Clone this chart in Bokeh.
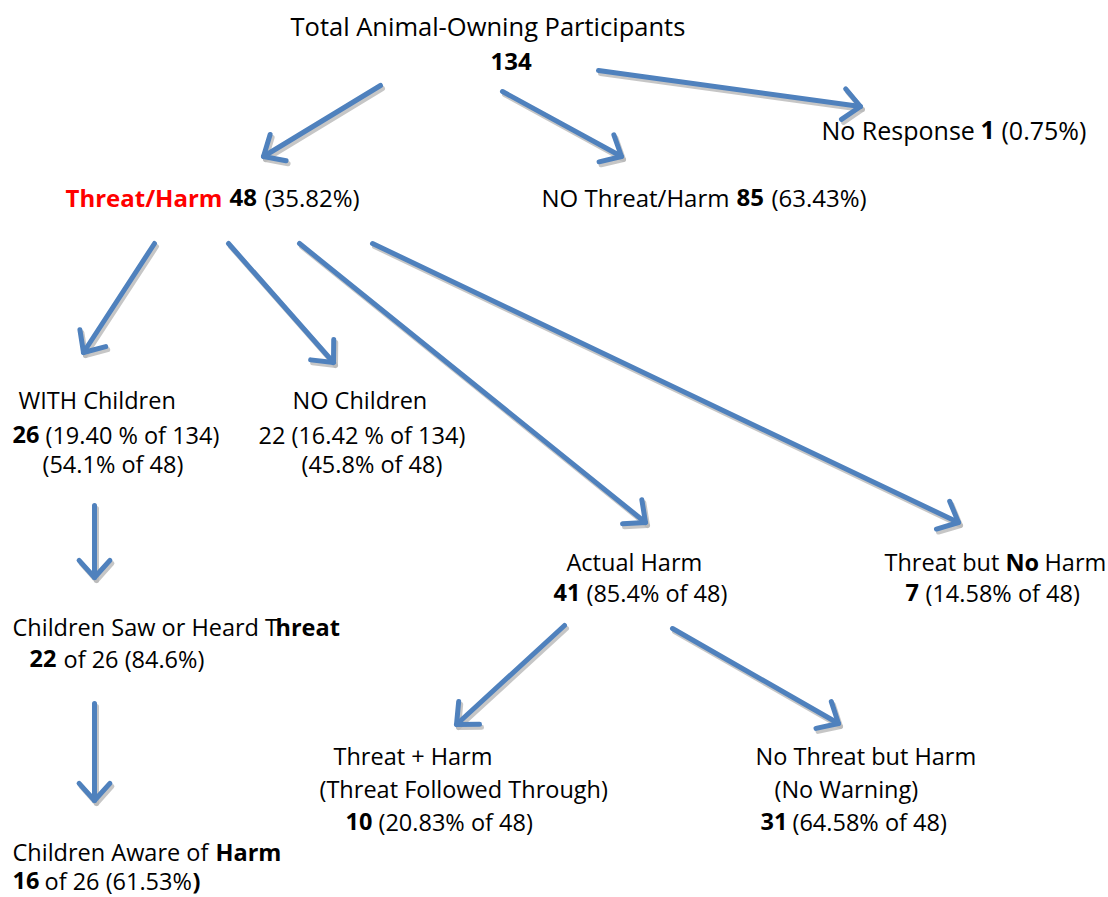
import math
from bokeh.plotting import figure
from bokeh.models import ColumnDataSource, Range1d
from bokeh.core.properties import value
from bokeh.embed import file_html
from bokeh.resources import INLINE

# ---- text segments of the flow chart ----
seg_text = [
    "Total Animal-Owning Participants", "134",
    "No Response", "1", "(0.75%)",
    "Threat/Harm", "48", "(35.82%)",
    "NO Threat/Harm", "85", "(63.43%)",
    "WITH Children", "26", "(19.40 % of 134)", "(54.1% of 48)",
    "NO Children", "22 (16.42 % of 134)", "(45.8% of 48)",
    "Actual Harm", "41", "(85.4% of 48)",
    "Threat but", "No", "Harm", "7", "(14.58% of 48)",
    "Children Saw or Heard T", "hreat", "22", "of 26 (84.6%)",
    "Threat + Harm", "(Threat Followed Through)", "10", "(20.83% of 48)",
    "No Threat but Harm", "(No Warning)", "31", "(64.58% of 48)",
    "Children Aware of", "Harm", "16", "of 26 (61.53%", ")",
]
seg_bold = [
    0, 1,
    0, 1, 0,
    1, 1, 0,
    0, 1, 0,
    0, 1, 0, 0,
    0, 0, 0,
    0, 1, 0,
    0, 1, 0, 1, 0,
    0, 1, 1, 0,
    0, 0, 1, 0,
    0, 0, 1, 0,
    0, 1, 1, 0, 1,
]
seg_color = ["#000000"] * len(seg_text)
seg_color[5] = "#FF0000"

# text size group: 0 = title, 1 = top row, 2 = second row, 3 = the rest
seg_group = [0, 2, 1, 1, 1] + [2] * 6 + [3] * (len(seg_text) - 11)

# positions (page pixels): left edge and baseline
seg_x = [
    290, 490,
    821, 980, 1001,
    65, 229, 264,
    541, 736, 771,
    18, 12, 45, 42,
    292, 258, 301,
    566, 553, 586,
    884, 1005, 1044, 905, 925,
    12, 275, 29, 63,
    333, 319, 345, 378,
    755, 774, 760, 792,
    12, 215, 12, 44, 192,
]
seg_y = [
    25, 61,
    129, 129, 129,
    197, 197, 197,
    197, 197, 197,
    399, 434, 434, 463,
    399, 434, 463,
    561, 592, 592,
    561, 561, 561, 592, 592,
    626, 626, 658, 658,
    755, 788, 821, 821,
    755, 788, 821, 821,
    851, 851, 880, 880, 880,
]

# ---- arrows (start -> tip) ----
arrow_x0 = [380, 502, 598, 154, 228, 299, 372, 94, 94, 564, 672]
arrow_y0 = [85, 91, 70, 243, 243, 243, 243, 505, 703, 625, 628]
arrow_x1 = [263, 621, 860, 83, 333, 645, 958, 94, 94, 456, 838]
arrow_y1 = [156, 156, 106, 352, 362, 522, 522, 577, 800, 724, 723]

BLUE = "#4F81BD"
SHADOW = "#B8B8B8"
FONT = "Open Sans"
GROUP_SIZES = ["25.5px", "25px", "24px", "23.5px"]

p = figure(width=1108, height=897, x_range=Range1d(0, 1108), y_range=Range1d(897, 0),
           output_backend="svg", toolbar_location=None, x_axis_type=None, y_axis_type=None,
           min_border=0, outline_line_color=None, background_fill_color="white")
p.grid.visible = False

# build arrow shafts and heads
head_len = 23
ang = math.radians(42)
xs, ys = [], []
for x0, y0, x1, y1 in zip(arrow_x0, arrow_y0, arrow_x1, arrow_y1):
    dx, dy = x1 - x0, y1 - y0
    d = math.hypot(dx, dy)
    bx, by = -dx / d, -dy / d
    r1 = (bx * math.cos(ang) - by * math.sin(ang), bx * math.sin(ang) + by * math.cos(ang))
    r2 = (bx * math.cos(ang) + by * math.sin(ang), -bx * math.sin(ang) + by * math.cos(ang))
    xs.append([x0, x1])
    ys.append([y0, y1])
    xs.append([x1 + head_len * r1[0], x1, x1 + head_len * r2[0]])
    ys.append([y1 + head_len * r1[1], y1, y1 + head_len * r2[1]])

sx = [[v + 2 for v in a] for a in xs]
sy = [[v + 3 for v in a] for a in ys]
p.multi_line(sx, sy, line_color=SHADOW, line_width=5, line_alpha=0.8,
             line_cap="round", line_join="round")
p.multi_line(xs, ys, line_color=BLUE, line_width=5, line_cap="round", line_join="round")

normal = dict(x=[], y=[], text=[], color=[], size=[])
bold = dict(x=[], y=[], text=[], color=[], size=[])
for t, b, c, g, x, y in zip(seg_text, seg_bold, seg_color, seg_group, seg_x, seg_y):
    d = bold if b else normal
    d["x"].append(x); d["y"].append(y); d["text"].append(t)
    d["color"].append(c); d["size"].append(GROUP_SIZES[g])

p.text(x="x", y="y", text="text", text_color="color", text_font_size="size",
       source=ColumnDataSource(normal), text_font=value(FONT), text_align="left",
       text_baseline="alphabetic")
p.text(x="x", y="y", text="text", text_color="color", text_font_size="size",
       source=ColumnDataSource(bold), text_font=value(FONT), text_font_style="bold",
       text_align="left", text_baseline="alphabetic")

open("out.html", "w").write(file_html(p, INLINE))
